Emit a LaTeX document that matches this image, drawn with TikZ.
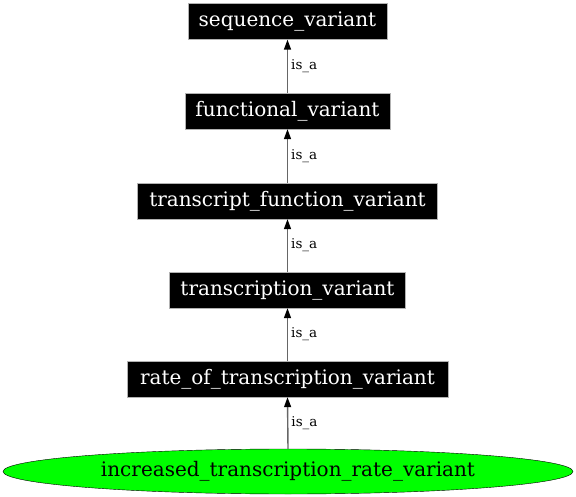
\documentclass[tikz,border=0pt]{standalone}
\usepackage{fontspec}
\setmainfont{DejaVu Serif}
\usetikzlibrary{shapes.geometric,arrows.meta}
\begin{document}
\begin{tikzpicture}[x=1pt,y=-1pt,
  termbox/.style={draw=gray!60,fill=black,text=white,font=\fontsize{20}{24}\selectfont,minimum height=36pt,inner sep=0pt,anchor=center},
  leafnode/.style={ellipse,draw=black,fill=green,font=\fontsize{20}{24}\selectfont,minimum width=570pt,minimum height=45pt,inner sep=0pt},
  isaedge/.style={draw=black!60,line width=1.4pt,-{Triangle[length=10pt,width=7pt,fill=black,color=black]}},
  edgelabel/.style={font=\fontsize{13.5}{16}\selectfont,right,inner sep=3pt,text=black}]
\useasboundingbox (0,0) rectangle (576,497);
\node[termbox,minimum width=199pt] (sv) at (287.5,21.5) {sequence\_variant};
\node[termbox,minimum width=205pt] (fv) at (287.5,111) {functional\_variant};
\node[termbox,minimum width=300pt] (tfv) at (287.5,201) {transcript\_function\_variant};
\node[termbox,minimum width=236pt] (tv) at (287.5,290) {transcription\_variant};
\node[termbox,minimum width=321pt] (rtv) at (287.5,379) {rate\_of\_transcription\_variant};
\node[leafnode] (itrv) at (288,471.5) {increased\_transcription\_rate\_variant};
\draw[isaedge] (fv.north) -- node[edgelabel]{is\_a} (sv.south);
\draw[isaedge] (tfv.north) -- node[edgelabel]{is\_a} (fv.south);
\draw[isaedge] (tv.north) -- node[edgelabel]{is\_a} (tfv.south);
\draw[isaedge] (rtv.north) -- node[edgelabel]{is\_a} (tv.south);
\draw[isaedge] (itrv.north) -- node[edgelabel]{is\_a} (rtv.south);
\end{tikzpicture}
\end{document}
